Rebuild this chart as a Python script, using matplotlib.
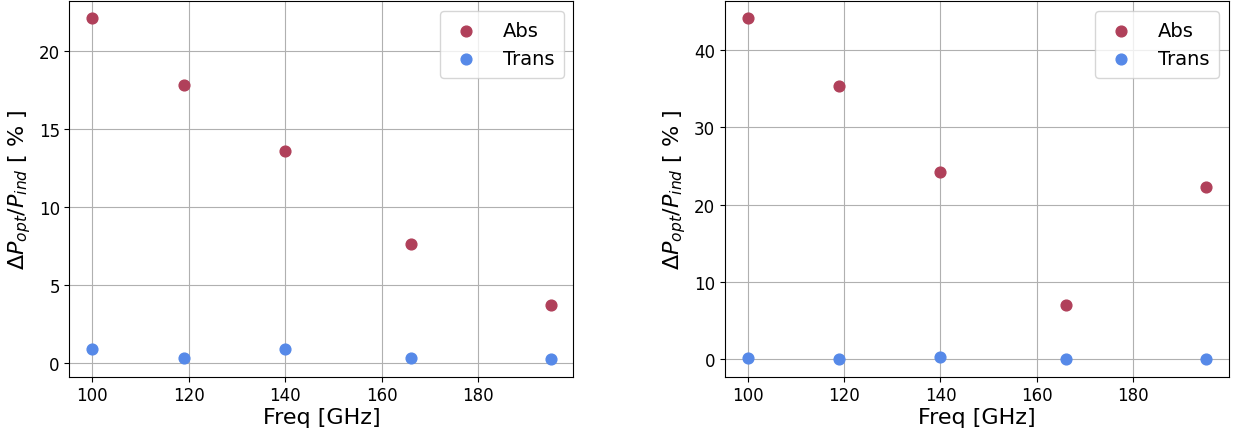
import matplotlib.pyplot as plt

# data
freq = [100, 119, 140, 166, 195]
abs_left = [22.1, 17.8, 13.6, 7.6, 3.7]
trans_left = [0.9, 0.3, 0.85, 0.3, 0.2]
abs_right = [44.1, 35.3, 24.2, 7.1, 22.3]
trans_right = [0.2, 0.1, 0.3, 0.0, 0.05]

red = '#b0405a'
blue = '#5689e8'

fig, axes = plt.subplots(1, 2, figsize=(12.41, 4.39), dpi=100)

for ax, a, t in zip(axes, [abs_left, abs_right], [trans_left, trans_right]):
    ax.scatter(freq, a, s=60, color=red, label='Abs', zorder=3)
    ax.scatter(freq, t, s=60, color=blue, label='Trans', zorder=3)
    ax.grid(True, color='#b0b0b0', linewidth=0.8)
    ax.set_axisbelow(True)
    ax.set_xticks([100, 120, 140, 160, 180])
    ax.tick_params(labelsize=12)
    ax.set_xlabel('Freq [GHz]', fontsize=16, labelpad=2)
    ax.set_ylabel(r'$\Delta P_{opt}/P_{ind}$ [ % ]', fontsize=16)
    ax.legend(loc='upper right', fontsize=14, handlelength=1.6,
              handletextpad=1.1, borderpad=0.5)

fig.subplots_adjust(left=0.056, right=0.99, top=0.995, bottom=0.14, wspace=0.3)
fig.savefig('out.png', dpi=100)
